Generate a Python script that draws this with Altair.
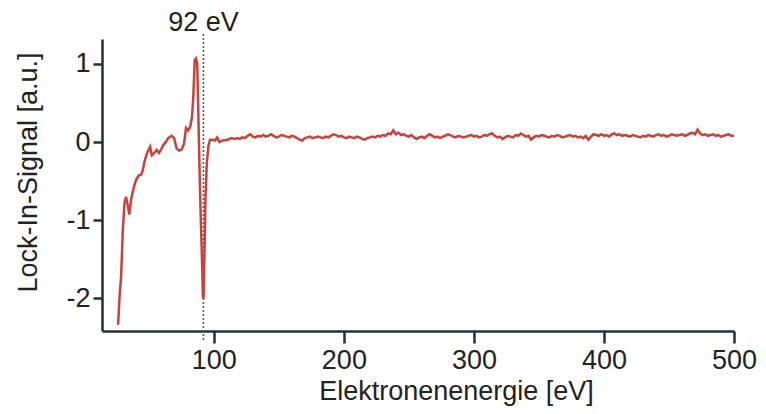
import altair as alt
import pandas as pd

# --- data ---
energy_start = [26.4, 27.5, 28.7, 30.0, 31.3, 32.5, 34.0, 35.0, 36.3, 38.3, 40.1, 42.1, 44.1,
                45.4, 46.4, 47.7, 49.2, 51.0, 52.3, 54.3, 56.1, 57.8, 59.3, 61.1, 63.1, 64.9,
                67.5, 69.5, 71.3, 73.3, 75.1, 77.1, 78.6, 80.2, 81.9, 83.2, 84.2, 85.3, 86.2,
                87.2, 87.8, 88.5, 89.5, 90.6, 91.6, 92.1, 92.9, 93.6, 94.6, 95.9, 97.1, 99.2,
                100.9, 102.5, 104.3, 106.8, 110.6, 113.5, 116.0]
signal_start = [-2.34, -1.98, -1.72, -1.13, -0.78, -0.70, -0.83, -0.93, -0.74, -0.59, -0.49,
                -0.43, -0.42, -0.36, -0.27, -0.19, -0.12, -0.06, -0.17, -0.14, -0.10, -0.14,
                -0.10, -0.04, 0.00, 0.05, 0.08, 0.05, -0.08, -0.11, -0.10, -0.02, 0.18, 0.15,
                0.20, 0.32, 0.58, 1.05, 1.07, 1.01, 0.58, 0.03, -0.70, -1.34, -1.98, -2.00,
                -1.34, -0.70, -0.27, -0.04, 0.03, 0.03, 0.02, 0.06, 0.00, 0.02, 0.03, 0.05, 0.04]

energy_flat = list(range(118, 501, 2))
signal_flat = [
    0.05, 0.04, 0.06, 0.05, 0.08, 0.10, 0.07, 0.06, 0.08, 0.07,
    0.09, 0.07, 0.08, 0.10, 0.08, 0.06, 0.07, 0.09, 0.08, 0.07,
    0.06, 0.08, 0.07, 0.05, 0.03, 0.02, 0.05, 0.06, 0.07, 0.05,
    0.06, 0.07, 0.06, 0.05, 0.07, 0.06, 0.08, 0.10, 0.09, 0.07,
    0.08, 0.06, 0.05, 0.07, 0.06, 0.05, 0.07, 0.06, 0.04, 0.03,
    0.05, 0.06, 0.07, 0.06, 0.08, 0.07, 0.09, 0.08, 0.11, 0.10,
    0.15, 0.10, 0.12, 0.09, 0.10, 0.08, 0.07, 0.09, 0.06, 0.04,
    0.06, 0.07, 0.05, 0.08, 0.10, 0.08, 0.06, 0.07, 0.05, 0.07,
    0.08, 0.10, 0.09, 0.07, 0.06, 0.08, 0.07, 0.06, 0.07, 0.08,
    0.09, 0.07, 0.08, 0.06, 0.07, 0.09, 0.08, 0.10, 0.11, 0.08,
    0.06, 0.07, 0.04, 0.06, 0.08, 0.07, 0.06, 0.09, 0.08, 0.11,
    0.09, 0.07, 0.08, 0.03, 0.06, 0.08, 0.07, 0.09, 0.08, 0.07,
    0.06, 0.08, 0.07, 0.09, 0.08, 0.06, 0.07, 0.08, 0.09, 0.07,
    0.08, 0.06, 0.07, 0.05, 0.08, 0.03, 0.07, 0.10, 0.09, 0.08,
    0.10, 0.08, 0.09, 0.07, 0.10, 0.11, 0.09, 0.10, 0.08, 0.09,
    0.08, 0.07, 0.09, 0.08, 0.07, 0.06, 0.08, 0.07, 0.09, 0.08,
    0.07, 0.09, 0.10, 0.08, 0.09, 0.07, 0.08, 0.10, 0.09, 0.08,
    0.09, 0.10, 0.08, 0.09, 0.11, 0.12, 0.10, 0.16, 0.11, 0.09,
    0.10, 0.08, 0.09, 0.10, 0.08, 0.09, 0.07, 0.08, 0.09, 0.10,
    0.08, 0.08,
]

marker_energy = [92]
marker_label = ["92 eV"]
x_ticks = [100, 200, 300, 400, 500]
y_ticks = [-2, -1, 0, 1]

df = pd.DataFrame({
    "energy": energy_start + energy_flat,
    "signal": signal_start + signal_flat,
})
df_marker = pd.DataFrame({"energy": marker_energy, "label": marker_label})

FONT = "Liberation Sans"
AXIS_COLOR = "#2b2f33"
TEXT_COLOR = "#222222"

x_enc = alt.X(
    "energy:Q",
    scale=alt.Scale(domain=[14, 500], nice=False, zero=False),
    axis=alt.Axis(
        values=x_ticks, title="Elektronenenergie [eV]", grid=False,
        domainColor=AXIS_COLOR, domainWidth=2.5, tickColor=AXIS_COLOR, tickWidth=2.5,
        tickSize=12, labelFont=FONT, labelFontSize=27, labelColor=TEXT_COLOR,
        labelPadding=4, titleFont=FONT, titleFontSize=27, titleFontWeight="normal",
        titleColor=TEXT_COLOR, titleX=354, titleY=68, titleAlign="center",
        titleBaseline="alphabetic", labelFlush=False,
    ),
)
y_enc = alt.Y(
    "signal:Q",
    scale=alt.Scale(domain=[-2.42, 1.32], nice=False, zero=False),
    axis=alt.Axis(
        values=y_ticks, title="Lock-In-Signal [a.u.]", grid=False,
        labelExpr="'' + datum.value",
        domainColor=AXIS_COLOR, domainWidth=2.5, tickColor=AXIS_COLOR, tickWidth=2.5,
        tickSize=9, labelFont=FONT, labelFontSize=27, labelColor=TEXT_COLOR,
        labelPadding=3, titleFont=FONT, titleFontSize=27, titleFontWeight="normal",
        titleColor=TEXT_COLOR, titleAngle=270, titleX=-66, titleY=133,
        titleAlign="center", titleBaseline="alphabetic",
    ),
)

line = alt.Chart(df).mark_line(color="#c8423d", strokeWidth=2.5).encode(x=x_enc, y=y_enc)

rule = alt.Chart(df_marker).mark_rule(
    color="#555555", strokeWidth=1.6, strokeDash=[2, 2]
).encode(x="energy:Q", y=alt.value(-5), y2=alt.value(303))

label = alt.Chart(df_marker).mark_text(
    font=FONT, fontSize=27, color=TEXT_COLOR, align="center", baseline="alphabetic"
).encode(x="energy:Q", y=alt.value(-8), text="label:N")

chart = alt.layer(rule, line, label).properties(
    width=632, height=292,
    autosize=alt.AutoSizeParams(type="none"),
    padding={"left": 94, "top": 31, "right": 24, "bottom": 75},
).configure_view(stroke=None)

chart.save("out.html", embed_options={"renderer": "svg", "actions": False})
